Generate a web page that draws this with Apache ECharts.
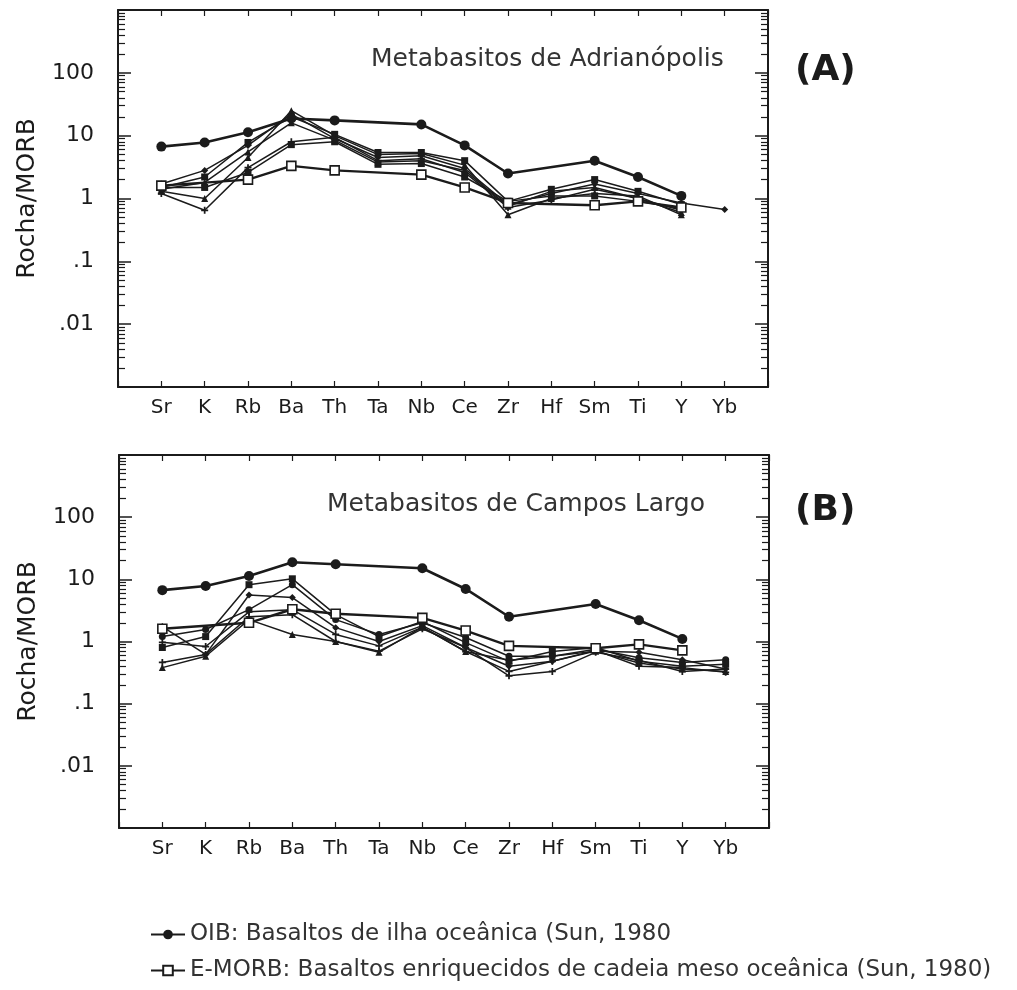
<!DOCTYPE html>
<html>
<head>
<meta charset="utf-8">
<script src="https://cdn.jsdelivr.net/npm/echarts@6/dist/echarts.min.js"></script>
<style>
  html, body { margin: 0; background: #fff; }
  #chart { width: 1017px; height: 990px; }
</style>
</head>
<body>
<div id="chart"></div>
<script>
// elementos normalizados ao MORB
const elements = ['Sr', 'K', 'Rb', 'Ba', 'Th', 'Ta', 'Nb', 'Ce', 'Zr', 'Hf', 'Sm', 'Ti', 'Y', 'Yb'];

// referências (Sun, 1980)
const oib   = [6.7, 7.8, 11.3, 18.8, 17.5, null, 15.1, 7.0, 2.5, null, 4.0, 2.2, 1.1, null];
const emorb = [1.6, null, 2.0, 3.3, 2.8, null, 2.4, 1.5, 0.85, null, 0.78, 0.9, 0.72, null];

// (A) Metabasitos de Adrianópolis
const adr1 = [1.3, 1.0, 4.5, 25, 10.0, 5.0, 5.2, 3.4, 0.55, 1.0, 1.2, 1.1, 0.55, null];
const adr2 = [1.5, 2.2, 7.8, 20, 10.5, 5.4, 5.4, 4.0, 0.9, 1.4, 2.0, 1.3, 0.8, null];
const adr3 = [1.7, 2.8, 7.0, 22, 9.0, 4.5, 4.8, 3.0, 0.8, 1.2, 1.7, 1.2, 0.85, 0.67];
const adr4 = [1.2, 0.65, 3.1, 8.0, 9.4, 4.0, 4.3, 2.6, 0.72, 0.95, 1.4, 1.0, 0.65, null];
const adr5 = [1.5, 1.5, 2.6, 7.2, 8.0, 3.5, 3.6, 2.2, 0.9, 1.1, 1.1, 0.9, 0.7, null];
const adr6 = [1.4, 1.8, 5.5, 16, 8.5, 3.8, 4.0, 2.8, 0.75, 1.3, 1.5, 1.0, 0.6, null];

// (B) Metabasitos de Campos Largo
const cl1 = [1.2, 1.56, 3.25, 8.2, 2.25, 1.3, 2.0, 1.16, 0.58, 0.58, 0.75, 0.55, 0.46, 0.51];
const cl2 = [0.8, 1.2, 8.2, 10.2, 2.7, 1.2, 2.1, 0.96, 0.48, 0.69, 0.8, 0.48, 0.4, 0.43];
const cl3 = [1.74, 0.62, 5.6, 5.1, 1.67, 1.0, 1.8, 0.8, 0.4, 0.48, 0.7, 0.67, 0.51, 0.36];
const cl4 = [0.97, 0.83, 3.0, 3.25, 1.3, 0.85, 1.7, 0.69, 0.33, 0.48, 0.72, 0.4, 0.38, 0.32];
const cl5 = [0.46, 0.62, 2.5, 2.7, 1.0, 0.7, 1.6, 0.8, 0.28, 0.33, 0.67, 0.5, 0.33, 0.36];
const cl6 = [0.38, 0.58, 2.25, 1.3, 1.0, 0.67, 1.7, 0.69, 0.5, 0.58, 0.7, 0.45, 0.36, 0.33];

// eixo y
const yTickValues = [0.01, 0.1, 1, 10, 100];
const yTickLabels = ['.01', '.1', '1', '10', '100'];
const yMajor = [0.001, 0.01, 0.1, 1, 10, 100, 1000];
const yMinor = [];
for (let d = -3; d < 3; d++) {
  for (let m = 2; m <= 9; m++) yMinor.push(parseFloat((m * Math.pow(10, d)).toPrecision(3)));
}

const ink = '#1b1b1b';
const font = 'DejaVu Sans';
const plus = 'path://M3,0h2v3h3v2h-3v3h-2v-3h-3v-2h3z';

function pts(arr) {
  return arr.map((v, i) => [i, v]).filter(p => p[1] != null);
}

function yLabel(v) {
  const i = yTickValues.findIndex(t => Math.abs(Math.log10(t) - Math.log10(v)) < 1e-6);
  return i < 0 ? '' : yTickLabels[i];
}

function yAxes(g) {
  const base = {
    type: 'log', logBase: 10, gridIndex: g, min: 0.001, max: 1000,
    splitLine: { show: false }
  };
  return [
    Object.assign({}, base, {
      position: 'left',
      name: 'Rocha/MORB', nameLocation: 'middle', nameGap: 78,
      nameTextStyle: { fontSize: 25, fontFamily: font, color: ink },
      axisLine: { show: true, onZero: false, lineStyle: { color: ink, width: 2 } },
      axisTick: { show: true, inside: true, length: 13, customValues: yMajor, lineStyle: { color: ink, width: 1.5 } },
      axisLabel: { customValues: yTickValues, formatter: yLabel, fontSize: 22, fontFamily: font, color: ink, margin: 24 }
    }),
    Object.assign({}, base, {
      position: 'left',
      axisLine: { show: false, onZero: false },
      axisTick: { show: true, inside: true, length: 7, customValues: yMinor, lineStyle: { color: ink, width: 1.2 } },
      axisLabel: { show: false }
    }),
    Object.assign({}, base, {
      position: 'right',
      axisLine: { show: true, onZero: false, lineStyle: { color: ink, width: 2 } },
      axisTick: { show: true, inside: true, length: 13, customValues: yMajor, lineStyle: { color: ink, width: 1.5 } },
      axisLabel: { show: false }
    }),
    Object.assign({}, base, {
      position: 'right',
      axisLine: { show: false, onZero: false },
      axisTick: { show: true, inside: true, length: 7, customValues: yMinor, lineStyle: { color: ink, width: 1.2 } },
      axisLabel: { show: false }
    })
  ];
}

function xAxes(g) {
  const base = {
    type: 'value', gridIndex: g, min: -1, max: 14, interval: 1,
    splitLine: { show: false },
    axisLine: { show: true, onZero: false, lineStyle: { color: ink, width: 2 } },
    axisTick: { show: true, inside: true, length: 6, lineStyle: { color: ink, width: 1.2 } }
  };
  return [
    Object.assign({}, base, {
      position: 'bottom',
      axisLabel: { formatter: v => elements[v] || '', fontSize: 20, fontFamily: font, color: ink, margin: 11 }
    }),
    Object.assign({}, base, { position: 'top', axisLabel: { show: false } })
  ];
}

function refSeries(xi, yi) {
  return [
    {
      name: 'OIB: Basaltos de ilha oceânica (Sun, 1980',
      type: 'line', xAxisIndex: xi, yAxisIndex: yi, z: 5,
      symbol: 'circle', symbolSize: 10,
      lineStyle: { color: ink, width: 2.6 },
      itemStyle: { color: ink },
      data: pts(oib)
    },
    {
      name: 'E-MORB: Basaltos enriquecidos de cadeia meso oceânica (Sun, 1980)',
      type: 'line', xAxisIndex: xi, yAxisIndex: yi, z: 5,
      symbol: 'rect', symbolSize: 9,
      lineStyle: { color: ink, width: 2.4 },
      itemStyle: { color: '#fff', borderColor: ink, borderWidth: 1.6 },
      data: pts(emorb)
    }
  ];
}

function sampleSeries(list, symbols, xi, yi) {
  return list.map((arr, k) => ({
    name: 'amostra' + xi + '_' + k,
    type: 'line', xAxisIndex: xi, yAxisIndex: yi, z: 3,
    symbol: symbols[k], symbolSize: 7,
    lineStyle: { color: ink, width: 1.5 },
    itemStyle: { color: ink },
    data: pts(arr)
  }));
}

const chart = echarts.init(document.getElementById('chart'));

const option = {
  backgroundColor: '#fff',
  animation: false,
  textStyle: { fontFamily: font },
  title: [
    { text: 'Metabasitos de Adrianópolis', left: 366, top: 42, textStyle: { fontSize: 25, fontWeight: 'normal', color: '#333', fontFamily: font } },
    { text: '(A)', left: 790, top: 48, textStyle: { fontSize: 36, fontWeight: 'bold', color: ink, fontFamily: font } },
    { text: 'Metabasitos de Campos Largo', left: 322, top: 487, textStyle: { fontSize: 25, fontWeight: 'normal', color: '#333', fontFamily: font } },
    { text: '(B)', left: 790, top: 488, textStyle: { fontSize: 36, fontWeight: 'bold', color: ink, fontFamily: font } }
  ],
  legend: {
    data: ['OIB: Basaltos de ilha oceânica (Sun, 1980', 'E-MORB: Basaltos enriquecidos de cadeia meso oceânica (Sun, 1980)'],
    orient: 'vertical', left: 145, top: 918, itemGap: 13, itemWidth: 34, itemHeight: 12,
    textStyle: { fontSize: 23, fontFamily: font, color: '#333' }
  },
  grid: [
    { left: 118, top: 10, width: 650, height: 377 },
    { left: 119, top: 455, width: 650, height: 373 }
  ],
  xAxis: xAxes(0).concat(xAxes(1)),
  yAxis: yAxes(0).concat(yAxes(1)),
  series: [].concat(
    sampleSeries([adr1, adr2, adr3, adr4, adr5, adr6], ['triangle', 'rect', 'diamond', plus, 'rect', 'triangle'], 0, 0),
    refSeries(0, 0),
    sampleSeries([cl1, cl2, cl3, cl4, cl5, cl6], ['circle', 'rect', 'diamond', plus, plus, 'triangle'], 2, 4),
    refSeries(2, 4)
  )
};

chart.setOption(option);
</script>
</body>
</html>
